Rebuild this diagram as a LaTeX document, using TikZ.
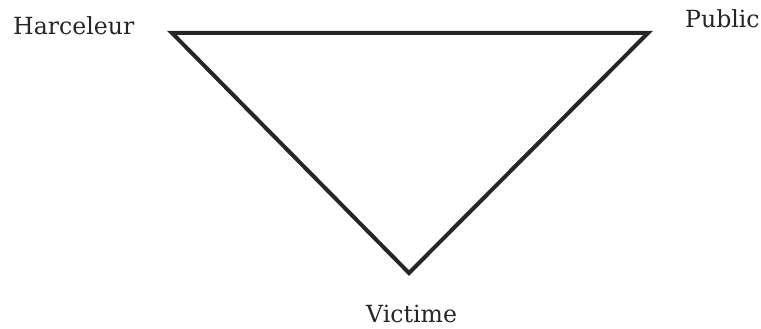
\documentclass[tikz,border=0pt]{standalone}
\usepackage{fontspec}
\setmainfont{DejaVu Serif}
\begin{document}
\begin{tikzpicture}[x=1pt,y=1pt,
  lbl/.style={inner sep=0pt, anchor=base west, font=\fontsize{23.6}{26}\selectfont, text=black!85},
  edge/.style={line width=4pt, draw=black!85, line join=miter}]
\useasboundingbox (0,0) rectangle (761,329);
\coordinate (h) at (172,296);
\coordinate (p) at (648,296);
\coordinate (v) at (409,56);
\node[lbl] (harceleur) at (13,294) {Harceleur};
\node[lbl] (public) at (685,301) {Public};
\node[lbl] (victime) at (366,6) {Victime};
\draw[edge] (h) -- (p) -- (v) -- cycle;
\end{tikzpicture}
\end{document}
